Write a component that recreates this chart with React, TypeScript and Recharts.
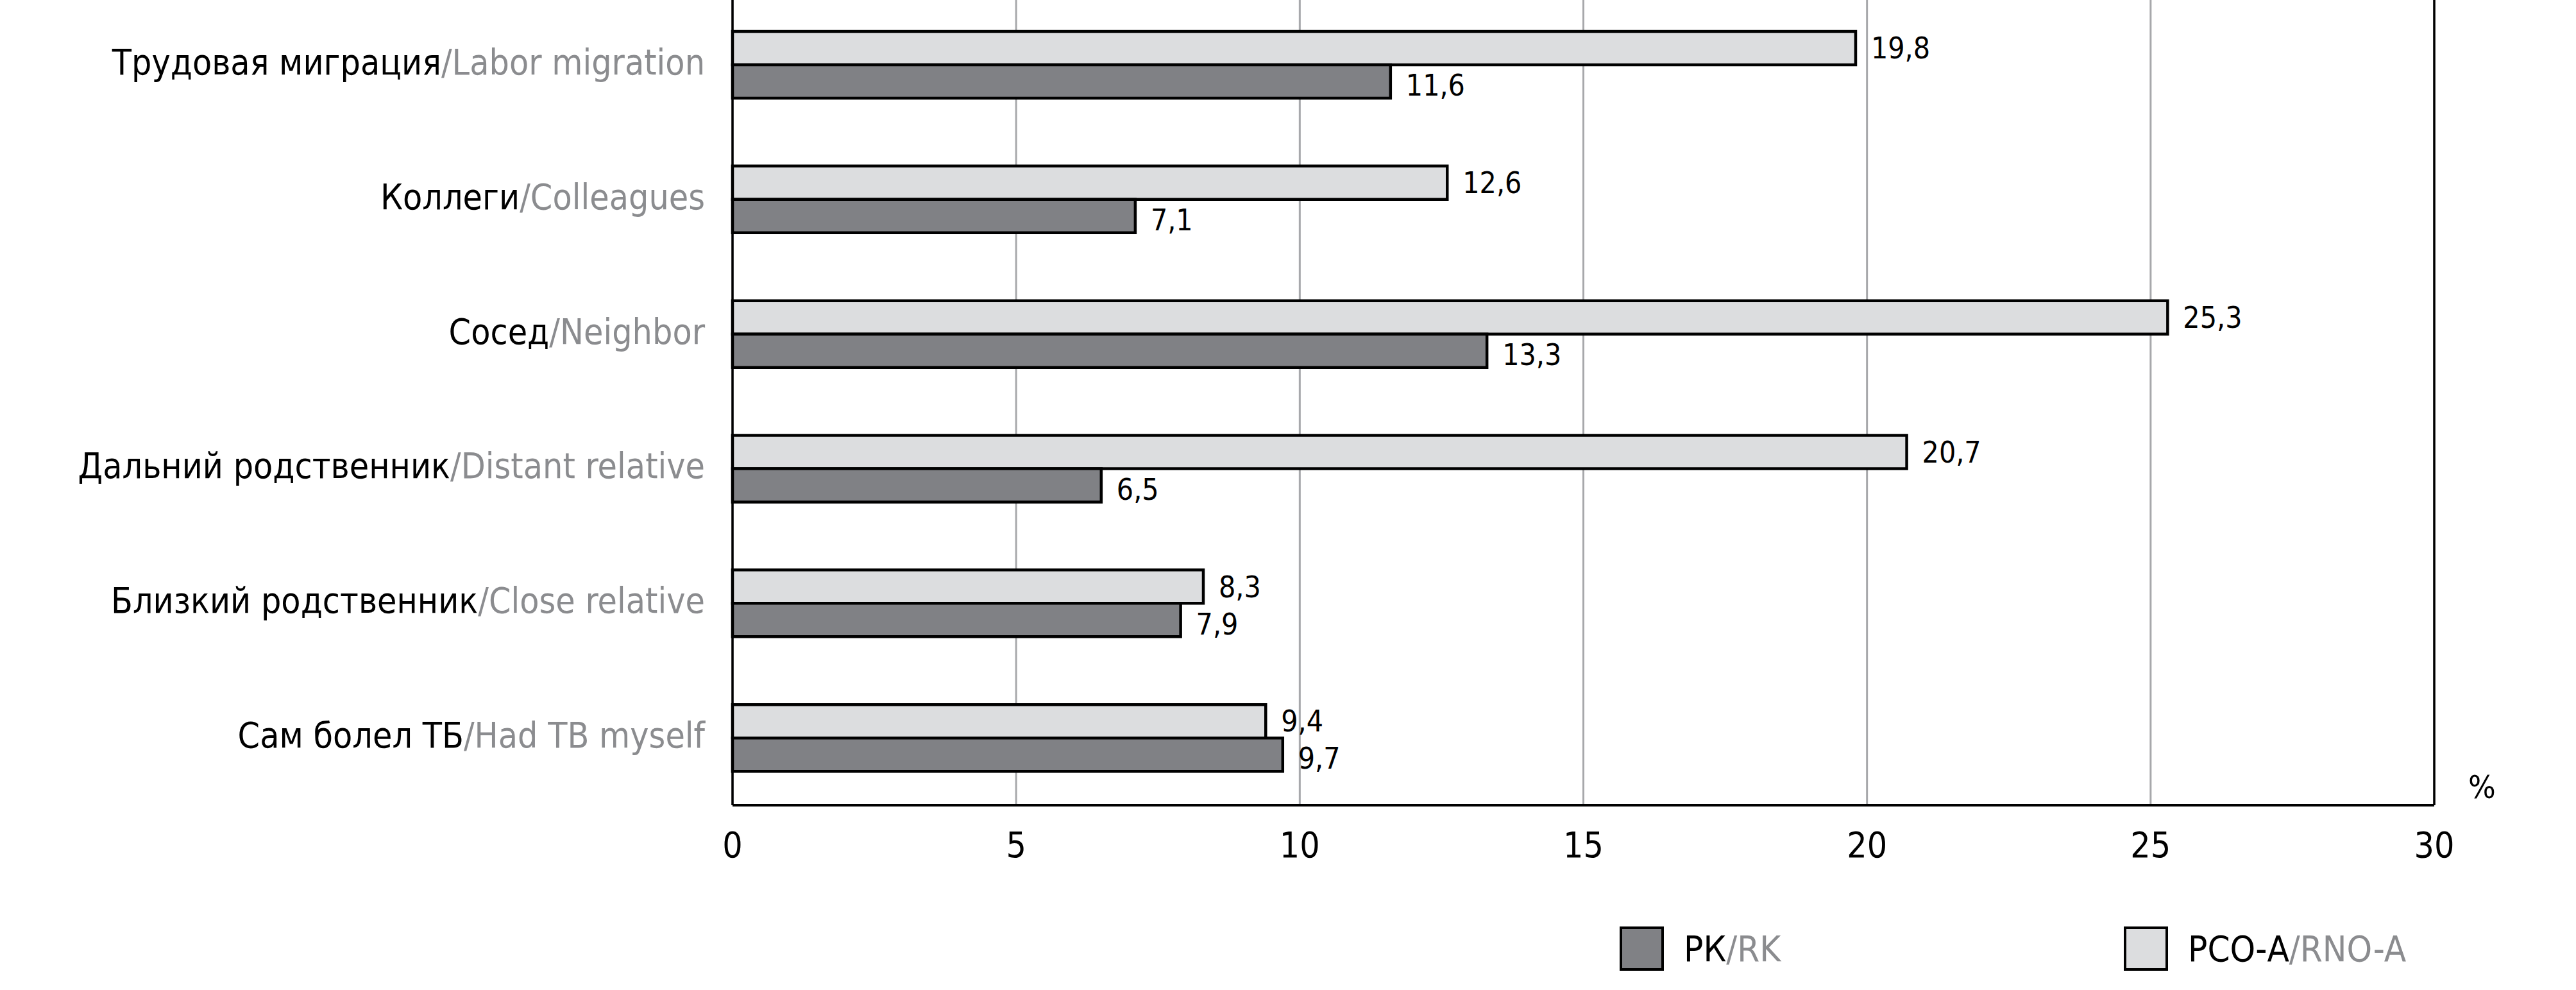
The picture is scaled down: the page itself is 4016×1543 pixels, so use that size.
import { BarChart, Bar, XAxis, YAxis, CartesianGrid, LabelList, ReferenceLine } from 'recharts'

const categoriesRu = ['Трудовая миграция', 'Коллеги', 'Сосед', 'Дальний родственник', 'Близкий родственник', 'Сам болел ТБ']
const categoriesEn = ['Labor migration', 'Colleagues', 'Neighbor', 'Distant relative', 'Close relative', 'Had TB myself']
const rnoA = [19.8, 12.6, 25.3, 20.7, 8.3, 9.4]
const rk = [11.6, 7.1, 13.3, 6.5, 7.9, 9.7]
const xTicks = [0, 5, 10, 15, 20, 25, 30]

const FONT = "'Liberation Sans Narrow', 'Arial Narrow', 'DejaVu Sans Condensed', sans-serif"
const LIGHT = '#dcdddf'
const DARK = '#808185'
const GREY_TEXT = '#8b8c8f'

const chartData = categoriesRu.map((ru, i) => ({
  name: ru,
  en: categoriesEn[i],
  rnoA: rnoA[i],
  rk: rk[i]
}))

const fmt = (v: number) => String(v).replace('.', ',')

function CategoryTick(props: any) {
  const { x, y, payload, index } = props
  const en = categoriesEn[index] ?? ''
  return (
    <text x={x - 43} y={y - 4} textAnchor="end" dominantBaseline="central" fontSize={55} fontFamily={FONT}>
      <tspan fill="#000">{payload.value}</tspan>
      <tspan fill={GREY_TEXT}>/{en}</tspan>
    </text>
  )
}

function LegendItem({ left, color, ru, en }: { left: number; color: string; ru: string; en: string }) {
  return (
    <div style={{ position: 'absolute', left, top: 1444, display: 'flex', alignItems: 'center', fontFamily: FONT, fontSize: 56 }}>
      <div style={{ width: 61, height: 61, background: color, border: '4px solid #000' }} />
      <span style={{ marginLeft: 31, lineHeight: '69px' }}>
        <span style={{ color: '#000' }}>{ru}</span>
        <span style={{ color: GREY_TEXT }}>/{en}</span>
      </span>
    </div>
  )
}

export default function App(): JSX.Element {
  return (
    <div style={{ position: 'absolute', left: 0, top: 0, width: 4016, height: 1543, background: '#fff', overflow: 'hidden' }}>
      <div style={{ position: 'absolute', left: 0, top: -4 }}>
        <BarChart
          width={4016}
          height={1404}
          data={chartData}
          layout="vertical"
          margin={{ top: 0, right: 221, bottom: 0, left: 0 }}
          barSize={52}
          barGap={0}
        >
          <CartesianGrid horizontal={false} vertical={true} stroke="#a7a8ab" strokeWidth={3} />
          <XAxis
            type="number"
            domain={[0, 30]}
            ticks={xTicks}
            height={145}
            tickLine={false}
            tickSize={0}
            tickMargin={42}
            axisLine={{ stroke: '#000', strokeWidth: 4 }}
            tick={{ fill: '#000', fontSize: 55, fontFamily: FONT }}
          />
          <YAxis
            type="category"
            dataKey="name"
            width={1142}
            tickLine={false}
            tickSize={0}
            tickMargin={0}
            axisLine={{ stroke: '#000', strokeWidth: 3.5 }}
            tick={<CategoryTick />}
            interval={0}
          />
          <ReferenceLine x={30} stroke="#000" strokeWidth={3.5} />
          <Bar dataKey="rnoA" fill={LIGHT} stroke="#000" strokeWidth={4.5} isAnimationActive={false}>
            <LabelList dataKey="rnoA" position="right" offset={24} formatter={(v: any) => fmt(v)} fill="#000" fontSize={46} fontFamily={FONT} />
          </Bar>
          <Bar dataKey="rk" fill={DARK} stroke="#000" strokeWidth={4.5} isAnimationActive={false}>
            <LabelList dataKey="rk" position="right" offset={24} dy={6} formatter={(v: any) => fmt(v)} fill="#000" fontSize={46} fontFamily={FONT} />
          </Bar>
        </BarChart>
      </div>
      <div style={{ position: 'absolute', left: 3848, top: 1198, fontFamily: FONT, fontSize: 50, color: '#000' }}>%</div>
      <LegendItem left={2525} color={DARK} ru="РК" en="RK" />
      <LegendItem left={3311} color={LIGHT} ru="РСО-А" en="RNO-A" />
    </div>
  )
}
